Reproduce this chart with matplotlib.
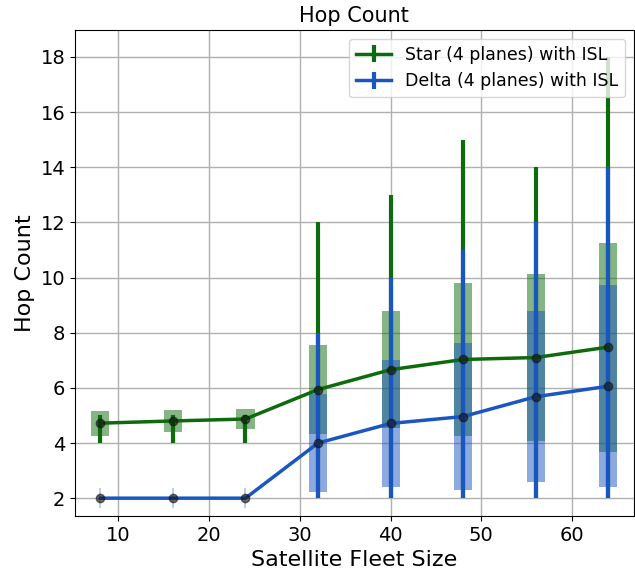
import matplotlib

matplotlib.use("Agg")
import matplotlib.pyplot as plt
import numpy as np

# Fleet sizes and hop-count statistics per constellation
fleet_size = [8, 16, 24, 32, 40, 48, 56, 64]

star_mean = [4.72, 4.80, 4.87, 5.94, 6.66, 7.03, 7.10, 7.48]
star_std = [0.45, 0.39, 0.35, 1.61, 2.12, 2.77, 3.03, 3.79]
star_min = [4, 4, 4, 2, 2, 2, 2, 2]
star_max = [5, 5, 5, 12, 13, 15, 14, 18]

delta_mean = [2.0, 2.0, 2.0, 4.0, 4.71, 4.96, 5.68, 6.06]
delta_std = [0.0, 0.0, 0.0, 1.77, 2.29, 2.68, 3.11, 3.67]
delta_min = [2, 2, 2, 2, 2, 2, 2, 2]
delta_max = [2, 2, 2, 8, 10, 11, 12, 14]

series = [
    ("Star (4 planes) with ISL", star_mean, star_std, star_min, star_max, "#0d6b0d"),
    ("Delta (4 planes) with ISL", delta_mean, delta_std, delta_min, delta_max, "#1a56c0"),
]

fig = plt.figure(figsize=(6.35, 5.76), dpi=100)
ax = fig.add_axes([0.118, 0.104, 0.880, 0.844])

x = np.array(fleet_size)
for label, mean, std, lo, hi, color in series:
    mean = np.array(mean)
    std = np.array(std)
    yerr = [mean - np.array(lo), np.array(hi) - mean]
    ax.errorbar(
        x, mean, yerr=yerr, color=color, linewidth=2.5, elinewidth=3,
        label=label, zorder=3,
    )
    # mean +/- one standard deviation as translucent boxes
    ax.bar(x, 2 * std, bottom=mean - std, width=2.0, color=color, alpha=0.5,
           linewidth=0, zorder=2)
    ax.plot(x, mean, "o", color="#111111", alpha=0.6, markersize=6, zorder=4)
    # spread markers where min equals max
    flat = np.array(lo) == np.array(hi)
    ax.plot(x[flat], mean[flat], "|", color=color, alpha=0.35, markersize=14,
            markeredgewidth=1.2, zorder=2)

ax.set_xlim(5.2, 66.8)
ax.set_ylim(1.35, 18.98)
ax.set_yticks(range(2, 19, 2))
ax.set_xticks(range(10, 61, 10))
ax.tick_params(labelsize=14)
ax.grid(True, color="#b0b0b0", linewidth=1)
ax.set_axisbelow(True)

ax.set_title("Hop Count", fontsize=15)
ax.set_xlabel("Satellite Fleet Size", fontsize=16)
ax.set_ylabel("Hop Count", fontsize=16)
ax.legend(loc="upper right", fontsize=12.5)

fig.savefig("out.png", dpi=100)
